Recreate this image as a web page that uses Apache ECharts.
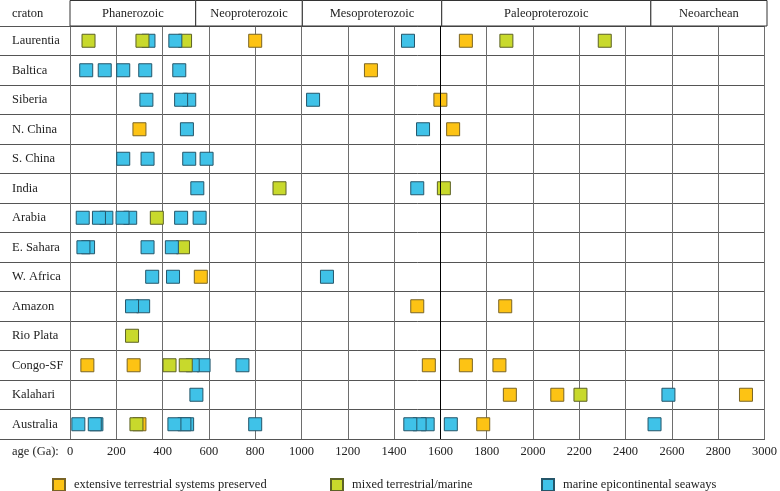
<!DOCTYPE html>
<html>
<head>
<meta charset="utf-8">
<script src="https://cdn.jsdelivr.net/npm/echarts@6/dist/echarts.min.js"></script>
<style>html,body{margin:0;padding:0;background:#fff;}#c{width:780px;height:491px;}</style>
</head>
<body>
<div id="c"></div>
<script>
// ---- data ----
const cratons = ['Laurentia','Baltica','Siberia','N. China','S. China','India','Arabia','E. Sahara','W. Africa','Amazon','Rio Plata','Congo-SF','Kalahari','Australia'];

const eonNames = ['Phanerozoic','Neoproterozoic','Mesoproterozoic','Paleoproterozoic','Neoarchean'];
const eonStart = [0, 541, 1000, 1600, 2500];
const eonEnd   = [541, 1000, 1600, 2500, 3000];

const xTicks = [0,200,400,600,800,1000,1200,1400,1600,1800,2000,2200,2400,2600,2800,3000];

// [age, craton]
const terrestrial = [
  [800,'Laurentia'],[1710,'Laurentia'],
  [1300,'Baltica'],
  [1600,'Siberia'],
  [300,'N. China'],[1655,'N. China'],
  [565,'W. Africa'],
  [1500,'Amazon'],[1880,'Amazon'],
  [75,'Congo-SF'],[275,'Congo-SF'],[1550,'Congo-SF'],[1710,'Congo-SF'],[1855,'Congo-SF'],
  [1900,'Kalahari'],[2105,'Kalahari'],[2920,'Kalahari'],
  [300,'Australia'],[1785,'Australia']
];
const mixed = [
  [80,'Laurentia'],[313,'Laurentia'],[497,'Laurentia'],[1885,'Laurentia'],[2310,'Laurentia'],
  [905,'India'],[1615,'India'],
  [375,'Arabia'],
  [488,'E. Sahara'],
  [268,'Rio Plata'],
  [430,'Congo-SF'],[500,'Congo-SF'],
  [2205,'Kalahari'],
  [287,'Australia']
];
const marine = [
  [339,'Laurentia'],[455,'Laurentia'],[1460,'Laurentia'],
  [70,'Baltica'],[150,'Baltica'],[230,'Baltica'],[325,'Baltica'],[472,'Baltica'],
  [330,'Siberia'],[480,'Siberia'],[515,'Siberia'],[1050,'Siberia'],
  [505,'N. China'],[1525,'N. China'],
  [230,'S. China'],[335,'S. China'],[515,'S. China'],[590,'S. China'],
  [550,'India'],[1500,'India'],
  [55,'Arabia'],[125,'Arabia'],[157,'Arabia'],[227,'Arabia'],[260,'Arabia'],[480,'Arabia'],[560,'Arabia'],
  [58,'E. Sahara'],[78,'E. Sahara'],[335,'E. Sahara'],[440,'E. Sahara'],
  [355,'W. Africa'],[445,'W. Africa'],[1110,'W. Africa'],
  [268,'Amazon'],[316,'Amazon'],
  [530,'Congo-SF'],[577,'Congo-SF'],[745,'Congo-SF'],
  [546,'Kalahari'],[2585,'Kalahari'],
  [36,'Australia'],[107,'Australia'],[114,'Australia'],[451,'Australia'],[494,'Australia'],[506,'Australia'],[800,'Australia'],
  [1470,'Australia'],[1510,'Australia'],[1545,'Australia'],[1645,'Australia'],[2525,'Australia']
];

// ---- styles ----
const FONT = '"Liberation Serif", "DejaVu Serif", serif';
const FS = 12.5;
const types = [
  {name:'extensive terrestrial systems preserved', color:'#fdc314', border:'#7a6424', data: terrestrial},
  {name:'mixed terrestrial/marine', color:'#c8d92c', border:'#5c6226', data: mixed},
  {name:'marine epicontinental seaways', color:'#3fc2e8', border:'#24566a', data: marine}
];

// combine into one list, older drawn first so younger squares sit on top
let pts = [];
types.forEach(t => t.data.forEach(d => pts.push({value:[d[0], d[1]], itemStyle:{color:t.color, borderColor:t.border, borderWidth:1, opacity:1}})));
pts.sort((a,b) => b.value[0] - a.value[0]);

const chart = echarts.init(document.getElementById('c'), null, {renderer:'canvas'});
const legendLefts = [52, 330, 541];

chart.setOption({
  backgroundColor:'#fff',
  animation:false,
  textStyle:{fontFamily:FONT},
  title:[
    {text:'craton', left:7, top:2, textStyle:{fontFamily:FONT, fontSize:FS, fontWeight:'normal', color:'#222'}},
    {text:'age (Ga):', left:7, top:440, textStyle:{fontFamily:FONT, fontSize:FS, fontWeight:'normal', color:'#222'}}
  ],
  legend: types.map((t,i) => ({
    data:[t.name], left:legendLefts[i] - 5, top:473, itemWidth:12, itemHeight:12,
    icon:'rect', selectedMode:false,
    textStyle:{fontFamily:FONT, fontSize:FS, color:'#222', padding:[0,0,0,4]}
  })),
  grid:[
    {left:0, width:70, top:26, height:413},
    {left:70, right:13, top:26, height:413},
    {left:70, right:13, top:0.5, height:25.5}
  ],
  xAxis:[
    {gridIndex:0, type:'value', show:false, min:0, max:1},
    {gridIndex:1, type:'value', min:0, max:3000, interval:200,
      axisLine:{show:true, lineStyle:{color:'#555'}},
      axisTick:{show:false},
      axisLabel:{margin:6, color:'#222', fontFamily:FONT, fontSize:FS,
        formatter: v => xTicks.includes(v) ? String(v) : ''},
      splitLine:{show:true, lineStyle:{color:'#6e6e6e', width:1}}
    },
    {gridIndex:2, type:'value', show:false, min:0, max:3000}
  ],
  yAxis:[
    {gridIndex:0, type:'category', data:cratons, inverse:true,
      axisLine:{show:false}, axisTick:{show:false},
      axisLabel:{inside:true, margin:12, color:'#222', fontFamily:FONT, fontSize:FS},
      splitLine:{show:true, lineStyle:{color:'#555'}}
    },
    {gridIndex:1, type:'category', data:cratons, inverse:true,
      axisLine:{show:false}, axisTick:{show:false}, axisLabel:{show:false},
      splitLine:{show:true, lineStyle:{color:'#555'}}
    },
    {gridIndex:2, type:'value', show:false, min:0, max:1}
  ],
  series:[
    {
      type:'custom', xAxisIndex:2, yAxisIndex:2, silent:true,
      data: eonStart.map((s,i) => [s, eonEnd[i]]),
      renderItem:(params, api) => {
        const a = api.coord([api.value(0), 1]);
        const b = api.coord([api.value(1), 0]);
        return {type:'group', children:[
          {type:'rect', shape:{x:a[0], y:a[1], width:b[0]-a[0], height:b[1]-a[1]},
           style:{fill:'#fff', stroke:'#333', lineWidth:1}},
          {type:'text', style:{text:eonNames[params.dataIndex], x:(a[0]+b[0])/2, y:(a[1]+b[1])/2+0.5,
           align:'center', verticalAlign:'middle', font: FS+'px '+FONT, fill:'#222'}}
        ]};
      }
    },
    {
      type:'scatter', xAxisIndex:1, yAxisIndex:1, data:[], z:1, silent:true,
      markLine:{silent:true, symbol:'none', label:{show:false},
        lineStyle:{color:'#000', type:'solid', width:1},
        data:[{xAxis:1600}]}
    },
    {
      type:'scatter', xAxisIndex:1, yAxisIndex:1, z:3,
      symbol:'rect', symbolSize:13, itemStyle:{opacity:1},
      emphasis:{disabled:true},
      data: pts
    }
  ].concat(types.map(t => ({
    name:t.name, type:'scatter', xAxisIndex:1, yAxisIndex:1, data:[],
    symbol:'rect', itemStyle:{color:t.color, borderColor:t.border, borderWidth:1, opacity:1}
  })))
});
</script>
</body>
</html>
